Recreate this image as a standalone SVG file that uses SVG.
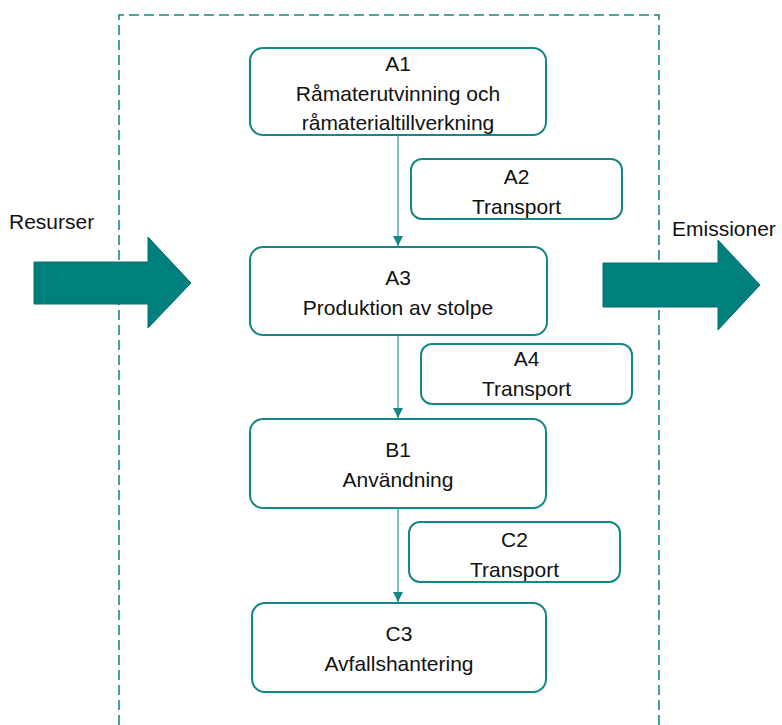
<svg xmlns="http://www.w3.org/2000/svg" width="782" height="725" viewBox="0 0 782 725">
<defs>
<style>
.box{fill:#fff;stroke:#168787;stroke-width:2}
.t{font-family:"Liberation Sans",Arial,sans-serif;font-size:21px;fill:#111;text-anchor:middle}
.lbl{font-family:"Liberation Sans",Arial,sans-serif;font-size:21px;fill:#111}
.conn{stroke:#3a9a9a;stroke-width:1.3;fill:none}
.big{fill:#007f7f;stroke:#0a6e6e;stroke-width:1}
</style>
<marker id="ah" viewBox="0 0 10 10" refX="10" refY="5" markerWidth="10" markerHeight="10" markerUnits="userSpaceOnUse" orient="auto">
<path d="M0,0 L10,5 L0,10 Z" fill="#168787"/>
</marker>
</defs>
<rect width="782" height="725" fill="#fff"/>
<path d="M119,740 L119,15 L659,15 L659,740" fill="none" stroke="#168787" stroke-width="1.6" stroke-dasharray="10,5"/>
<g id="resurser">
<path class="big" d="M34,262 L148,262 L148,237 L191,283 L148,328 L148,304 L34,304 Z"/>
<text class="lbl" x="9" y="229">Resurser</text>
</g>
<g id="emissioner">
<path class="big" d="M603,263 L718,263 L718,240 L760,285 L718,330 L718,307 L603,307 Z"/>
<text class="lbl" x="672" y="236">Emissioner</text>
</g>
<g id="connectors">
<line class="conn" x1="398" y1="135" x2="398" y2="246" marker-end="url(#ah)"/>
<line class="conn" x1="398" y1="335" x2="398" y2="418" marker-end="url(#ah)"/>
<line class="conn" x1="398" y1="508" x2="398" y2="602" marker-end="url(#ah)"/>
</g>
<g id="A1">
<rect class="box" x="250" y="48" width="296" height="87" rx="13"/>
<text class="t" x="398" y="71">A1</text>
<text class="t" x="398" y="101">Råmaterutvinning och</text>
<text class="t" x="398" y="130">råmaterialtillverkning</text>
</g>
<g id="A2">
<rect class="box" x="411" y="159" width="211" height="60" rx="11"/>
<text class="t" x="516.5" y="184">A2</text>
<text class="t" x="516.5" y="214">Transport</text>
</g>
<g id="A3">
<rect class="box" x="250" y="247" width="297" height="88" rx="13"/>
<text class="t" x="398" y="285">A3</text>
<text class="t" x="398" y="315">Produktion av stolpe</text>
</g>
<g id="A4">
<rect class="box" x="421" y="344" width="211" height="60" rx="11"/>
<text class="t" x="526.5" y="366">A4</text>
<text class="t" x="526.5" y="396">Transport</text>
</g>
<g id="B1">
<rect class="box" x="250" y="419" width="296" height="89" rx="13"/>
<text class="t" x="398" y="457">B1</text>
<text class="t" x="398" y="487">Användning</text>
</g>
<g id="C2">
<rect class="box" x="409" y="522" width="211" height="60" rx="11"/>
<text class="t" x="514.5" y="547">C2</text>
<text class="t" x="514.5" y="577">Transport</text>
</g>
<g id="C3">
<rect class="box" x="252" y="603" width="294" height="89" rx="13"/>
<text class="t" x="399" y="641">C3</text>
<text class="t" x="399" y="671">Avfallshantering</text>
</g>
</svg>
